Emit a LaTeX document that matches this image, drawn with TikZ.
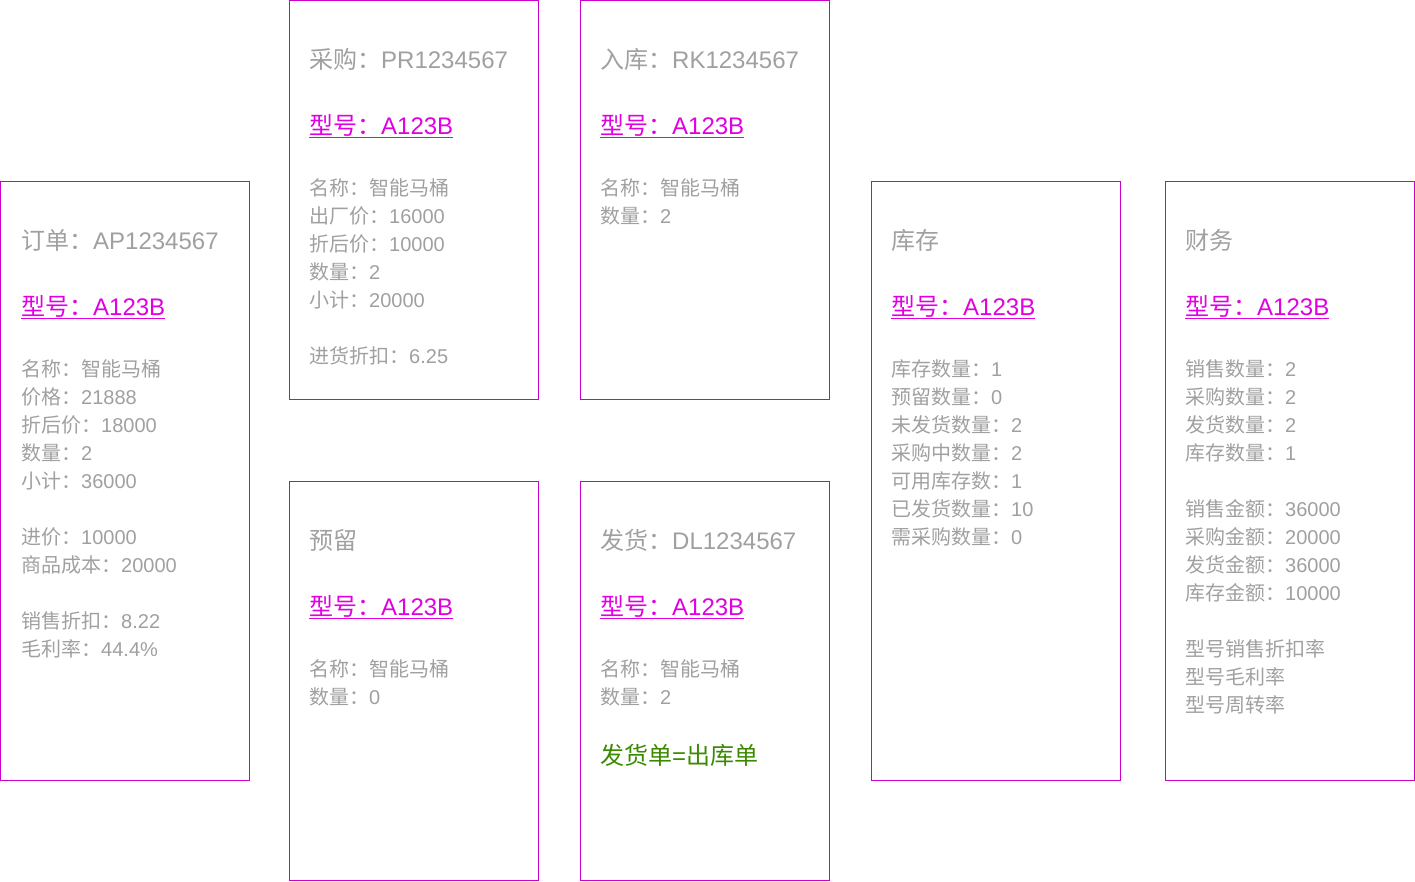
\documentclass[tikz,border=0pt]{standalone}
\usepackage{fontspec}
\setmainfont{Noto Sans CJK SC}
\newfontfamily\lat{Liberation Sans}
\newcommand{\lt}[1]{{\lat #1}}
\definecolor{bordc}{HTML}{CC00CC}
\definecolor{linkc}{HTML}{E000E0}
\definecolor{greyc}{HTML}{A0A0A0}
\definecolor{greenc}{HTML}{3A8A00}
\tikzset{
  card/.style={draw=bordc, line width=1pt},
  ttl/.style={anchor=base west, inner sep=0pt, text=greyc, font=\fontsize{24}{24}\selectfont},
  lnk/.style={anchor=base west, inner sep=0pt, text=linkc, font=\fontsize{24}{24}\selectfont},
  txt/.style={anchor=base west, inner sep=0pt, text=greyc, font=\fontsize{20}{20}\selectfont},
  grn/.style={anchor=base west, inner sep=0pt, text=greenc, font=\fontsize{24}{24}\selectfont},
  uline/.style={draw=linkc, line width=1.3pt}
}
\begin{document}
\begin{tikzpicture}[x=1pt,y=-1pt]
\useasboundingbox (0,0) rectangle (1415,881);
% boxes
\draw[card] (0.5,181.5) rectangle (249.5,780.5);
\draw[card] (289.5,0.5) rectangle (538.5,399.5);
\draw[card] (580.5,0.5) rectangle (829.5,399.5);
\draw[card] (289.5,481.5) rectangle (538.5,880.5);
\draw[card] (580.5,481.5) rectangle (829.5,880.5);
\draw[card] (871.5,181.5) rectangle (1120.5,780.5);
\draw[card] (1165.5,181.5) rectangle (1414.5,780.5);
% order
\node[ttl] (ot) at (21,249) {订单：\lt{AP1234567}};
\node[lnk] (ol) at (21,315) {型号：\lt{A123B}};
\draw[uline] ([yshift=-3.5pt]ol.base west) -- ([yshift=-3.5pt]ol.base east);
\node[txt] (o1) at (21,376) {名称：智能马桶};
\node[txt] (o2) at (21,404) {价格：\lt{21888}};
\node[txt] (o3) at (21,432) {折后价：\lt{18000}};
\node[txt] (o4) at (21,460) {数量：\lt{2}};
\node[txt] (o5) at (21,488) {小计：\lt{36000}};
\node[txt] (o6) at (21,544) {进价：\lt{10000}};
\node[txt] (o7) at (21,572) {商品成本：\lt{20000}};
\node[txt] (o8) at (21,628) {销售折扣：\lt{8.22}};
\node[txt] (o9) at (21,656) {毛利率：\lt{44.4\%}};
% purchase
\node[ttl] (pt) at (309,68) {采购：\lt{PR1234567}};
\node[lnk] (pl) at (309,134) {型号：\lt{A123B}};
\draw[uline] ([yshift=-3.5pt]pl.base west) -- ([yshift=-3.5pt]pl.base east);
\node[txt] (p1) at (309,195) {名称：智能马桶};
\node[txt] (p2) at (309,223) {出厂价：\lt{16000}};
\node[txt] (p3) at (309,251) {折后价：\lt{10000}};
\node[txt] (p4) at (309,279) {数量：\lt{2}};
\node[txt] (p5) at (309,307) {小计：\lt{20000}};
\node[txt] (p6) at (309,363) {进货折扣：\lt{6.25}};
% inbound
\node[ttl] (it) at (600,68) {入库：\lt{RK1234567}};
\node[lnk] (il) at (600,134) {型号：\lt{A123B}};
\draw[uline] ([yshift=-3.5pt]il.base west) -- ([yshift=-3.5pt]il.base east);
\node[txt] (i1) at (600,195) {名称：智能马桶};
\node[txt] (i2) at (600,223) {数量：\lt{2}};
% reserve
\node[ttl] (rt) at (309,549) {预留};
\node[lnk] (rl) at (309,615) {型号：\lt{A123B}};
\draw[uline] ([yshift=-3.5pt]rl.base west) -- ([yshift=-3.5pt]rl.base east);
\node[txt] (r1) at (309,676) {名称：智能马桶};
\node[txt] (r2) at (309,704) {数量：\lt{0}};
% delivery
\node[ttl] (dt) at (600,549) {发货：\lt{DL1234567}};
\node[lnk] (dl) at (600,615) {型号：\lt{A123B}};
\draw[uline] ([yshift=-3.5pt]dl.base west) -- ([yshift=-3.5pt]dl.base east);
\node[txt] (d1) at (600,676) {名称：智能马桶};
\node[txt] (d2) at (600,704) {数量：\lt{2}};
\node[grn] (d3) at (600,764) {发货单\lt{=}出库单};
% inventory
\node[ttl] (kt) at (891,249) {库存};
\node[lnk] (kl) at (891,315) {型号：\lt{A123B}};
\draw[uline] ([yshift=-3.5pt]kl.base west) -- ([yshift=-3.5pt]kl.base east);
\node[txt] (k1) at (891,376) {库存数量：\lt{1}};
\node[txt] (k2) at (891,404) {预留数量：\lt{0}};
\node[txt] (k3) at (891,432) {未发货数量：\lt{2}};
\node[txt] (k4) at (891,460) {采购中数量：\lt{2}};
\node[txt] (k5) at (891,488) {可用库存数：\lt{1}};
\node[txt] (k6) at (891,516) {已发货数量：\lt{10}};
\node[txt] (k7) at (891,544) {需采购数量：\lt{0}};
% finance
\node[ttl] (ft) at (1185,249) {财务};
\node[lnk] (fl) at (1185,315) {型号：\lt{A123B}};
\draw[uline] ([yshift=-3.5pt]fl.base west) -- ([yshift=-3.5pt]fl.base east);
\node[txt] (f1) at (1185,376) {销售数量：\lt{2}};
\node[txt] (f2) at (1185,404) {采购数量：\lt{2}};
\node[txt] (f3) at (1185,432) {发货数量：\lt{2}};
\node[txt] (f4) at (1185,460) {库存数量：\lt{1}};
\node[txt] (f5) at (1185,516) {销售金额：\lt{36000}};
\node[txt] (f6) at (1185,544) {采购金额：\lt{20000}};
\node[txt] (f7) at (1185,572) {发货金额：\lt{36000}};
\node[txt] (f8) at (1185,600) {库存金额：\lt{10000}};
\node[txt] (f9) at (1185,656) {型号销售折扣率};
\node[txt] (f10) at (1185,684) {型号毛利率};
\node[txt] (f11) at (1185,712) {型号周转率};
\end{tikzpicture}
\end{document}
